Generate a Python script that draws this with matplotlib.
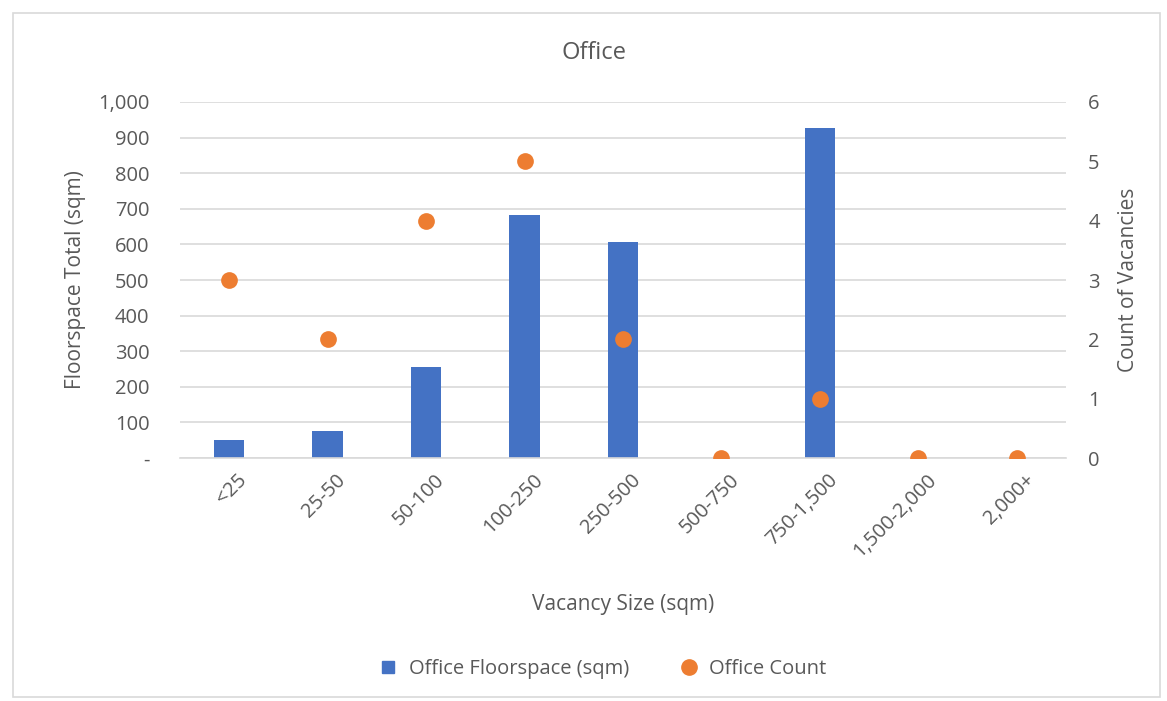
import matplotlib
matplotlib.use("Agg")
import matplotlib.pyplot as plt
import matplotlib.ticker as mticker
from matplotlib.lines import Line2D
from matplotlib.patches import Rectangle
from matplotlib.transforms import ScaledTranslation

categories = ["<25", "25-50", "50-100", "100-250", "250-500", "500-750",
              "750-1,500", "1,500-2,000", "2,000+"]
floorspace = [52, 77, 255, 683, 608, 0, 927, 0, 0]
counts = [3, 2, 4, 5, 2, 0, 1, 0, 0]

BLUE = "#4472C4"
ORANGE = "#ED7D31"
GREY = "#595959"
GRID = "#D9D9D9"

plt.rcParams['font.family'] = ['Open Sans', 'DejaVu Sans']

fig = plt.figure(figsize=(11.67, 7.01), dpi=100)
fig.patches.append(Rectangle((0.011, 0.005), 0.983, 0.977, transform=fig.transFigure,
                             fill=False, edgecolor="#D9D9D9", linewidth=1.2))

ax = fig.add_axes([0.1542, 0.3466, 0.7592, 0.5079])
x = list(range(len(categories)))
ax.bar(x, floorspace, width=0.31, color=BLUE, zorder=2, label="Office Floorspace (sqm)")
ax.set_xlim(-0.5, len(categories) - 0.5)
ax.set_ylim(0, 1000)
ax.yaxis.set_major_locator(mticker.MultipleLocator(100))
ax.yaxis.set_major_formatter(mticker.FuncFormatter(lambda v, p: "-" if v == 0 else f"{int(v):,}"))
ax.grid(axis="y", color=GRID, linewidth=1.2, zorder=0)
ax.set_axisbelow(True)
for s in ["top", "right", "left"]:
    ax.spines[s].set_visible(False)
ax.spines["bottom"].set_color(GRID)
ax.spines["bottom"].set_linewidth(1.2)
ax.tick_params(axis="both", length=0, labelsize=14.5, labelcolor=GREY)
ax.tick_params(axis="y", pad=22)
ax.set_xticks(x)
ax.set_xticklabels(categories, rotation=45, ha="right", va="top", rotation_mode="anchor")
for lbl in ax.get_xticklabels():
    lbl.set_transform(lbl.get_transform() + ScaledTranslation(0.08, -0.07, fig.dpi_scale_trans))

ax.set_ylabel("Floorspace Total (sqm)", fontsize=15, color=GREY, labelpad=9)
ax.set_xlabel("Vacancy Size (sqm)", fontsize=15, color=GREY, labelpad=24)

ax2 = ax.twinx()
ax2.scatter(x, counts, s=145, color=ORANGE, zorder=3, label="Office Count", linewidths=0)
ax2.set_ylim(0, 6)
ax2.yaxis.set_major_locator(mticker.MultipleLocator(1))
for s in ["top", "right", "left", "bottom"]:
    ax2.spines[s].set_visible(False)
ax2.tick_params(axis="y", length=0, labelsize=14.5, labelcolor=GREY, pad=16)
ax2.set_ylabel("Count of Vacancies", fontsize=15, color=GREY, labelpad=13)

fig.text(0.509, 0.925, "Office", fontsize=17, color=GREY, ha="center", va="center")

handles = [Line2D([], [], marker="s", linestyle="none", color=BLUE, markersize=9),
           Line2D([], [], marker="o", linestyle="none", color=ORANGE, markersize=11)]
fig.legend(handles, ["Office Floorspace (sqm)", "Office Count"], loc="center",
           bbox_to_anchor=(0.512, 0.045), ncol=2, frameon=False, fontsize=14.5,
           labelcolor=GREY, handletextpad=0.0, columnspacing=2.0)

fig.savefig("out.png", dpi=100)
